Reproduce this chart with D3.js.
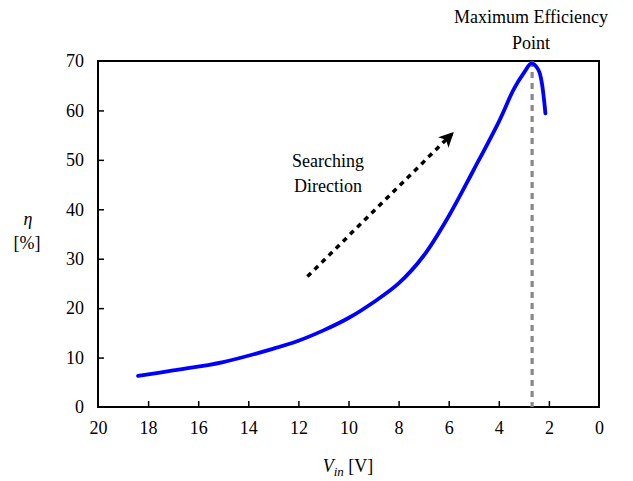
<!DOCTYPE html>
<html>
<head>
<meta charset="utf-8">
<script src="https://cdn.jsdelivr.net/npm/d3@7"></script>
<style>
  html, body { margin: 0; padding: 0; background: #fff; }
  svg text { font-family: "Liberation Serif", Tinos, "DejaVu Serif", serif !important; fill: #000; }
</style>
</head>
<body>
<svg id="chart" width="633" height="481"></svg>
<script>
// Input voltage (V) and conversion efficiency (%) along the sweep
const vin = [18.4, 17.0, 15.0, 13.0, 12.0, 11.0, 10.0, 9.0, 8.0, 7.0, 6.0, 5.0, 4.0, 3.4, 3.0, 2.69, 2.42, 2.29, 2.2, 2.14];
const eta = [6.3, 7.4, 9.1, 11.8, 13.4, 15.5, 18.0, 21.2, 25.0, 30.6, 38.6, 48.0, 57.7, 64.3, 67.6, 69.5, 68.2, 65.8, 62.4, 59.4];

const xTicks = [20, 18, 16, 14, 12, 10, 8, 6, 4, 2, 0];
const yTicks = [0, 10, 20, 30, 40, 50, 60, 70];

// Peak marker and search-direction arrow (data coordinates)
const peakVin = 2.67;
const arrowFrom = [11.64, 26.4];
const arrowTo = [5.88, 55.2];

const svg = d3.select("#chart");
const margin = { left: 98, right: 34, top: 61, bottom: 74 };
const W = 633, H = 481;

const x = d3.scaleLinear().domain([20, 0]).range([margin.left, W - margin.right]);
const y = d3.scaleLinear().domain([0, 70]).range([H - margin.bottom, margin.top]);

const defs = svg.append("defs");
defs.append("marker")
  .attr("id", "arrowhead")
  .attr("viewBox", "0 0 10 10")
  .attr("refX", 8).attr("refY", 5)
  .attr("markerWidth", 4.2).attr("markerHeight", 4.2)
  .attr("orient", "auto")
  .append("path").attr("d", "M0,0 L10,5 L0,10 L2.5,5 Z").attr("fill", "#000");

// Axes with inward ticks
const xAxis = d3.axisBottom(x).tickValues(xTicks).tickSize(-6).tickPadding(14);
const yAxis = d3.axisLeft(y).tickValues(yTicks).tickSize(-6).tickPadding(14);

const gx = svg.append("g").attr("transform", `translate(0,${y(0)})`).call(xAxis);
const gy = svg.append("g").attr("transform", `translate(${x(20)},0)`).call(yAxis);
[gx, gy].forEach(g => {
  g.attr("font-family", null);
  g.select(".domain").remove();
  g.selectAll(".tick line").attr("stroke", "#000").attr("stroke-width", 1.5);
  g.selectAll(".tick text").attr("font-size", 18);
});
gx.selectAll(".tick text").attr("dy", "0.71em");
gx.selectAll(".tick").filter(d => d === 20 || d === 0).select("line").remove();
gy.selectAll(".tick").filter(d => d === 0 || d === 70).select("line").remove();

// Plot frame
svg.append("rect")
  .attr("x", x(20)).attr("y", y(70))
  .attr("width", x(0) - x(20)).attr("height", y(0) - y(70))
  .attr("fill", "none").attr("stroke", "#000").attr("stroke-width", 2);

// Peak efficiency guide line
svg.append("line")
  .attr("x1", x(peakVin)).attr("x2", x(peakVin))
  .attr("y1", y(70)).attr("y2", y(0))
  .attr("stroke", "#888").attr("stroke-width", 3.2)
  .attr("stroke-dasharray", "6,5");

// Efficiency curve
const pts = vin.map((v, i) => [v, eta[i]]);
svg.append("path")
  .datum(pts)
  .attr("fill", "none")
  .attr("stroke", "#0000ff")
  .attr("stroke-width", 3.8)
  .attr("stroke-linejoin", "round")
  .attr("stroke-linecap", "round")
  .attr("d", d3.line().x(d => x(d[0])).y(d => y(d[1])).curve(d3.curveCatmullRom.alpha(0.5)));

// Search direction arrow
svg.append("line")
  .attr("x1", x(arrowFrom[0])).attr("y1", y(arrowFrom[1]))
  .attr("x2", x(arrowTo[0])).attr("y2", y(arrowTo[1]))
  .attr("stroke", "#000").attr("stroke-width", 3.5)
  .attr("stroke-dasharray", "5,5")
  .attr("marker-end", "url(#arrowhead)");

svg.append("text").attr("x", 328).attr("y", 167).attr("text-anchor", "middle")
  .attr("font-size", 18).text("Searching");
svg.append("text").attr("x", 328).attr("y", 192).attr("text-anchor", "middle")
  .attr("font-size", 18).text("Direction");

svg.append("text").attr("x", 531).attr("y", 23).attr("text-anchor", "middle")
  .attr("font-size", 18).text("Maximum Efficiency");
svg.append("text").attr("x", 531).attr("y", 49).attr("text-anchor", "middle")
  .attr("font-size", 18).text("Point");

// Axis titles
const xt = svg.append("text").attr("x", 348).attr("y", 472).attr("text-anchor", "middle").attr("font-size", 18);
xt.append("tspan").attr("font-style", "italic").text("V");
xt.append("tspan").attr("font-style", "italic").attr("font-size", 13).attr("dy", 4).text("in");
xt.append("tspan").attr("dy", -4).text(" [V]");

svg.append("text").attr("x", 28).attr("y", 225).attr("text-anchor", "middle")
  .attr("font-size", 18).attr("font-style", "italic").text("η");
svg.append("text").attr("x", 27).attr("y", 249).attr("text-anchor", "middle")
  .attr("font-size", 18).text("[%]");
</script>
</body>
</html>
